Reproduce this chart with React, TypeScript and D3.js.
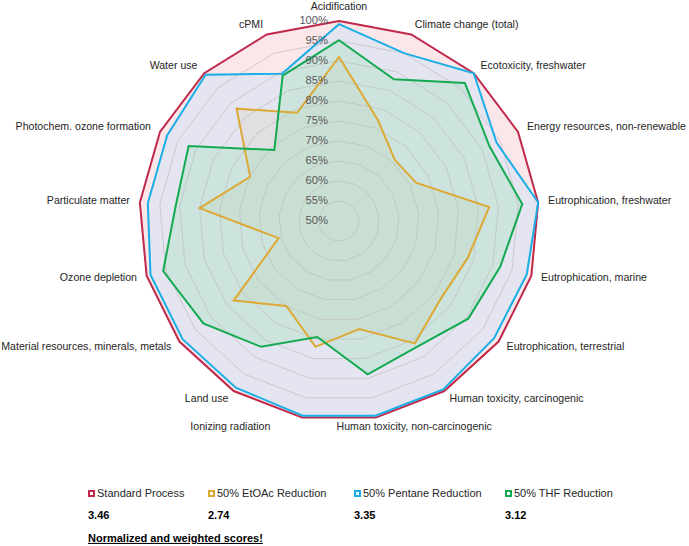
import React from "react";
import * as d3 from "d3";

const categories = [
  "Acidification",
  "Climate change (total)",
  "Ecotoxicity, freshwater",
  "Energy resources, non-renewable",
  "Eutrophication, freshwater",
  "Eutrophication, marine",
  "Eutrophication, terrestrial",
  "Human toxicity, carcinogenic",
  "Human toxicity, non-carcinogenic",
  "Ionizing radiation",
  "Land use",
  "Material resources, minerals, metals",
  "Ozone depletion",
  "Particulate matter",
  "Photochem. ozone formation",
  "Water use",
  "cPMI",
];

const standardProcess = [100, 100, 100, 100, 100, 100, 100, 100, 100, 100, 100, 100, 100, 100, 100, 100, 100];
const etoacReduction = [91, 77, 70.7, 71.5, 87.7, 83.5, 82, 86, 77.5, 82, 75, 83, 65.7, 85, 74.8, 88, 79];
const pentaneReduction = [99.2, 95, 100, 94, 100, 98.8, 98.6, 99.5, 99.5, 99.5, 99, 99, 99, 98, 98, 99.5, 89.5];
const thfReduction = [95.2, 88, 96.7, 92, 96, 91.9, 90.5, 87, 89, 79.5, 87, 92.5, 95.7, 91, 92, 74, 89];

const tickValues = [50, 55, 60, 65, 70, 75, 80, 85, 90, 95, 100];
const seriesNames = ["Standard Process", "50% EtOAc Reduction", "50% Pentane Reduction", "50% THF Reduction"];
const scores = ["3.46", "2.74", "3.35", "3.12"];

// label horizontal nudges (style)
const labelDx: Record<number, number> = { 8: -41, 9: -30 };

export default function App() {
  const W = 689, H = 546;
  const cx = 339, cy = 221, R = 200;
  const n = categories.length;
  const r = d3.scaleLinear().domain([50, 100]).range([0, R]);
  const ang = (i: number) => (i * 2 * Math.PI) / n;
  const pt = (i: number, v: number): [number, number] => [
    cx + r(v) * Math.sin(ang(i)),
    cy - r(v) * Math.cos(ang(i)),
  ];
  const line = d3.line<[number, number]>().curve(d3.curveLinearClosed);
  const pathFor = (vals: number[]) => line(vals.map((v, i) => pt(i, v))) || "";

  const series = [
    { name: seriesNames[0], data: standardProcess, stroke: "#C0294A", fill: "#F4B6C2", op: 0.35 },
    { name: seriesNames[1], data: etoacReduction, stroke: "#DCA935", fill: "#E9C79A", op: 0.3 },
    { name: seriesNames[2], data: pentaneReduction, stroke: "#1AAEE6", fill: "#C2E4FA", op: 0.4 },
    { name: seriesNames[3], data: thfReduction, stroke: "#13AA50", fill: "#96E2B4", op: 0.3 },
  ];

  const legendX = [88, 208, 354, 505];
  const font = "'Liberation Sans', Arial, sans-serif";

  return (
    <svg width={W} height={H} style={{ position: "absolute", left: 0, top: 0, background: "#fff" }} fontFamily={font}>
      {series.map((s, k) => (
        <path key={"f" + k} d={pathFor(s.data)} fill={s.fill} fillOpacity={s.op} stroke="none" />
      ))}
      {tickValues.slice(1).map((t) => (
        <path
          key={"g" + t}
          d={pathFor(categories.map(() => t))}
          fill="none"
          stroke="#BDBDBD"
          strokeOpacity={0.7}
          strokeWidth={1}
        />
      ))}
      {series.map((s, k) => (
        <path key={"l" + k} d={pathFor(s.data)} fill="none" stroke={s.stroke} strokeWidth={2} strokeLinejoin="miter" />
      ))}
      {tickValues.map((t) => (
        <text
          key={"t" + t}
          x={cx - 11}
          y={cy - r(t)}
          textAnchor="end"
          dominantBaseline="middle"
          fontSize={11.2}
          fill="#595959"
        >
          {t}%
        </text>
      ))}
      {categories.map((c, i) => {
        const a = ang(i);
        const s = Math.sin(a);
        const [x, y] = pt(i, 100 + 10 / 4);
        let anchor: "start" | "end" | "middle" = s > 0.05 ? "start" : s < -0.05 ? "end" : "middle";
        let baseline = "middle";
        if (i === 0) baseline = "auto";
        const dx = labelDx[i] || 0;
        if (i === 8) anchor = "start";
        return (
          <text
            key={"c" + i}
            x={x + dx}
            y={i === 0 ? y - 1 : y}
            textAnchor={anchor}
            dominantBaseline={baseline as any}
            fontSize={10.6}
            fill="#262626"
          >
            {c}
          </text>
        );
      })}
      {series.map((s, k) => (
        <g key={"lg" + k}>
          <rect x={legendX[k] + 1} y={491} width={5} height={5} fill="#fff" stroke={s.stroke} strokeWidth={2} />
          <text x={legendX[k] + 9} y={494} dominantBaseline="middle" fontSize={11} fill="#262626">
            {s.name}
          </text>
          <text x={legendX[k]} y={516} dominantBaseline="middle" fontSize={11} fontWeight="bold" fill="#000">
            {scores[k]}
          </text>
        </g>
      ))}
      <text x={88} y={539} dominantBaseline="middle" fontSize={11} fontWeight="bold" fill="#000" textDecoration="underline">
        Normalized and weighted scores!
      </text>
    </svg>
  );
}
